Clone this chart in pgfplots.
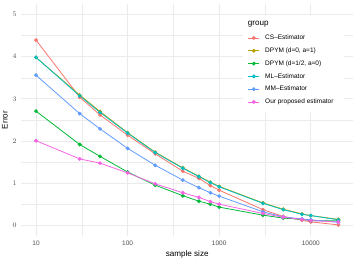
\documentclass[border=0pt]{standalone}
\usepackage{fontspec}
\setmainfont{Liberation Sans}
\usepackage{pgfplots}
\pgfplotsset{compat=1.18}
\usepackage{pgfplotstable}
\definecolor{cCS}{HTML}{F8766D}
\definecolor{cDA}{HTML}{B79F00}
\definecolor{cDB}{HTML}{00BA38}
\definecolor{cML}{HTML}{00BFC4}
\definecolor{cMM}{HTML}{619CFF}
\definecolor{cOU}{HTML}{F564E3}
\definecolor{gridc}{HTML}{EBEBEB}
\definecolor{gthirty}{HTML}{4D4D4D}
\pgfplotstableread{
x cs d0 d12 ml mm ours
10 4.39 3.98 2.71 3.98 3.56 2.01
30 3.04 3.09 1.92 3.07 2.65 1.58
50 2.62 2.70 1.64 2.68 2.29 1.48
100 2.14 2.20 1.27 2.19 1.83 1.25
200 1.70 1.74 0.96 1.73 1.43 0.99
400 1.29 1.37 0.71 1.36 1.08 0.78
600 1.12 1.17 0.58 1.16 0.90 0.67
800 0.95 1.03 0.51 1.02 0.78 0.57
1000 0.84 0.93 0.44 0.92 0.70 0.51
3000 0.38 0.54 0.25 0.53 0.33 0.29
5000 0.22 0.39 0.18 0.38 0.21 0.20
8000 0.13 0.28 0.15 0.27 0.16 0.15
10000 0.09 0.24 0.12 0.24 0.14 0.12
20000 0.02 0.15 0.12 0.14 0.08 0.09
}\data
\begin{document}
\begin{tikzpicture}
\begin{axis}[
  at={(0,0)}, anchor=south west,
  scale only axis, width=332.6bp, height=232.6bp,
  xmode=log, xmin=6.84, xmax=29240, ymin=-0.25, ymax=5.25,
  axis line style={draw=none},
  major tick length=0pt, minor tick length=0pt,
  xtick={10,100,1000,10000}, xticklabels={10,100,1000,10000},
  minor xtick={31.6228,316.228,3162.28},
  ytick={0,1,2,3,4,5},
  minor ytick={0.5,1.5,2.5,3.5,4.5},
  grid=both,
  major grid style={color=gridc, line width=0.8bp},
  minor grid style={color=gridc, line width=0.4bp},
  tick label style={font=\fontsize{6.5bp}{7.5bp}\selectfont, text=gthirty, inner sep=0pt},
  xticklabel shift=4bp,
  yticklabel shift=4bp,
  xlabel={sample size}, ylabel={Error},
  label style={font=\fontsize{8.1bp}{9bp}\selectfont},
  xlabel style={at={(axis description cs:0.5,-0.076)}, anchor=center},
  ylabel style={at={(axis description cs:-0.048,0.5)}, anchor=center},
  every axis plot/.append style={line width=0.8bp, mark=*, mark size=1.5bp},
  legend cell align=left,
  legend image code/.code={\draw[mark repeat=2,mark phase=2,#1] plot coordinates {(0bp,0bp) (5.5bp,0bp) (11bp,0bp)};},
  legend style={at={(rel axis cs:0.682,0.881)}, anchor=north west, draw=none, fill=none,
    font=\fontsize{6.5bp}{7.5bp}\selectfont, inner sep=0pt, row sep=0pt,
    nodes={inner xsep=0pt, inner ysep=3.35bp, text height=4.8bp, text depth=1.3bp},
    /tikz/every odd column/.append style={column sep=5.5bp}},
]
\fill[white] (rel axis cs:0.668,0.947) rectangle (rel axis cs:0.971,0.534);
\node[anchor=west, inner sep=0pt, font=\fontsize{8.1bp}{9bp}\selectfont] at (rel axis cs:0.682,0.913) {group};
\addplot[color=cCS, mark options={fill=cCS}] table[x=x,y=cs] {\data};
\addlegendentry{CS–Estimator}
\addplot[color=cDA, mark options={fill=cDA}] table[x=x,y=d0] {\data};
\addlegendentry{DPYM (d=0, a=1)}
\addplot[color=cDB, mark options={fill=cDB}] table[x=x,y=d12] {\data};
\addlegendentry{DPYM (d=1/2, a=0)}
\addplot[color=cML, mark options={fill=cML}] table[x=x,y=ml] {\data};
\addlegendentry{ML–Estimator}
\addplot[color=cMM, mark options={fill=cMM}] table[x=x,y=mm] {\data};
\addlegendentry{MM–Estimator}
\addplot[color=cOU, mark options={fill=cOU}] table[x=x,y=ours] {\data};
\addlegendentry{Our proposed estimator}
\end{axis}
\pgfresetboundingbox
\path[use as bounding box] (-20.9bp,-23.7bp) rectangle (336.1bp,236.3bp);
\end{tikzpicture}
\end{document}
